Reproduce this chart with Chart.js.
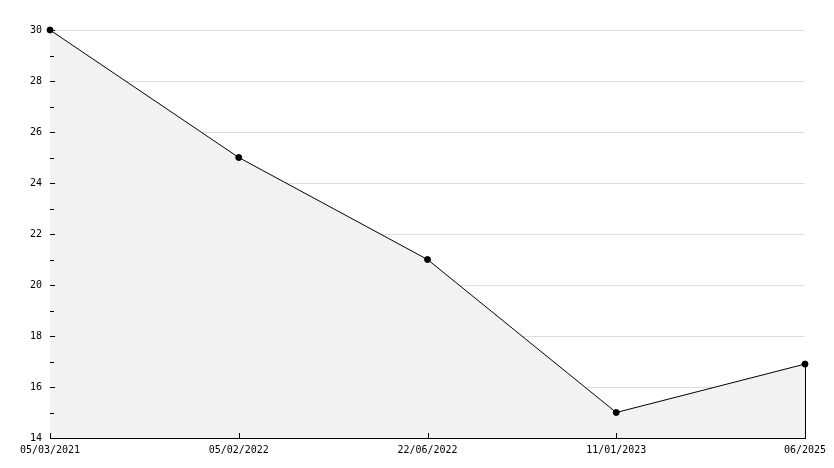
<!DOCTYPE html>
<html>
<head>
<meta charset="utf-8">
<script src="https://cdn.jsdelivr.net/npm/chart.js@4/dist/chart.umd.min.js"></script>
<style>
  html, body { margin: 0; padding: 0; background: #fff; }
  #wrap { width: 834px; height: 468px; }
</style>
</head>
<body>
<div id="wrap"><canvas id="chart"></canvas></div>
<script>
// data
const labels = ['05/03/2021', '05/02/2022', '22/06/2022', '11/01/2023', '06/2025'];
const values = [30, 25, 21, 15, 16.9];
const yMin = 14;
const yMax = 30;

// small inward tick marks + closing edge of the filled area
const innerTicks = {
    id: 'innerTicks',
    afterDatasetsDraw(chart) {
        const ctx = chart.ctx;
        const x = chart.scales.x;
        const y = chart.scales.y;
        const area = chart.chartArea;
        ctx.save();
        ctx.strokeStyle = '#000';
        ctx.lineWidth = 1;
        ctx.beginPath();
        y.ticks.forEach((t, i) => {
            const py = Math.round(y.getPixelForTick(i)) + 0.5;
            const len = t.value % 2 === 0 ? 5 : 4;
            ctx.moveTo(area.left, py);
            ctx.lineTo(area.left + len, py);
        });
        x.ticks.forEach((t, i) => {
            const px = Math.round(x.getPixelForTick(i)) + 0.5;
            ctx.moveTo(px, area.bottom);
            ctx.lineTo(px, area.bottom - 5);
        });
        // right edge of the area fill
        const last = values.length - 1;
        const ex = Math.round(x.getPixelForValue(last)) + 0.5;
        ctx.moveTo(ex, y.getPixelForValue(values[last]));
        ctx.lineTo(ex, area.bottom);
        ctx.stroke();
        ctx.restore();
    }
};

const ctx = document.getElementById('chart').getContext('2d');
new Chart(ctx, {
    type: 'line',
    data: {
        labels: labels,
        datasets: [{
            data: values,
            borderColor: '#000',
            borderWidth: 1,
            backgroundColor: '#f2f2f2',
            fill: 'start',
            tension: 0,
            pointRadius: 3,
            pointBorderWidth: 1,
            pointBackgroundColor: '#000',
            pointBorderColor: '#000',
            clip: false
        }]
    },
    options: {
        responsive: true,
        maintainAspectRatio: false,
        animation: false,
        layout: { padding: { top: 30, right: 29, bottom: 0, left: 0 } },
        plugins: {
            legend: { display: false },
            tooltip: { enabled: false }
        },
        scales: {
            x: {
                type: 'category',
                offset: false,
                afterFit: s => { s.height = 30; },
                grid: { color: 'transparent', drawTicks: false },
                border: { color: '#000', width: 1 },
                ticks: {
                    autoSkip: false,
                    maxRotation: 0,
                    padding: 6,
                    color: '#000',
                    font: { family: 'DejaVu Sans Mono', size: 10 }
                }
            },
            y: {
                min: yMin,
                max: yMax,
                afterFit: s => { s.width = 50; },
                grid: {
                    drawTicks: false,
                    color: c => (c.tick && c.tick.value % 2 === 0) ? '#dddddd' : 'transparent'
                },
                border: { color: '#000', width: 1 },
                ticks: {
                    stepSize: 1,
                    padding: 8,
                    color: '#000',
                    font: { family: 'DejaVu Sans Mono', size: 10 },
                    callback: v => v % 2 === 0 ? v : ''
                }
            }
        }
    },
    plugins: [innerTicks]
});
</script>
</body>
</html>
